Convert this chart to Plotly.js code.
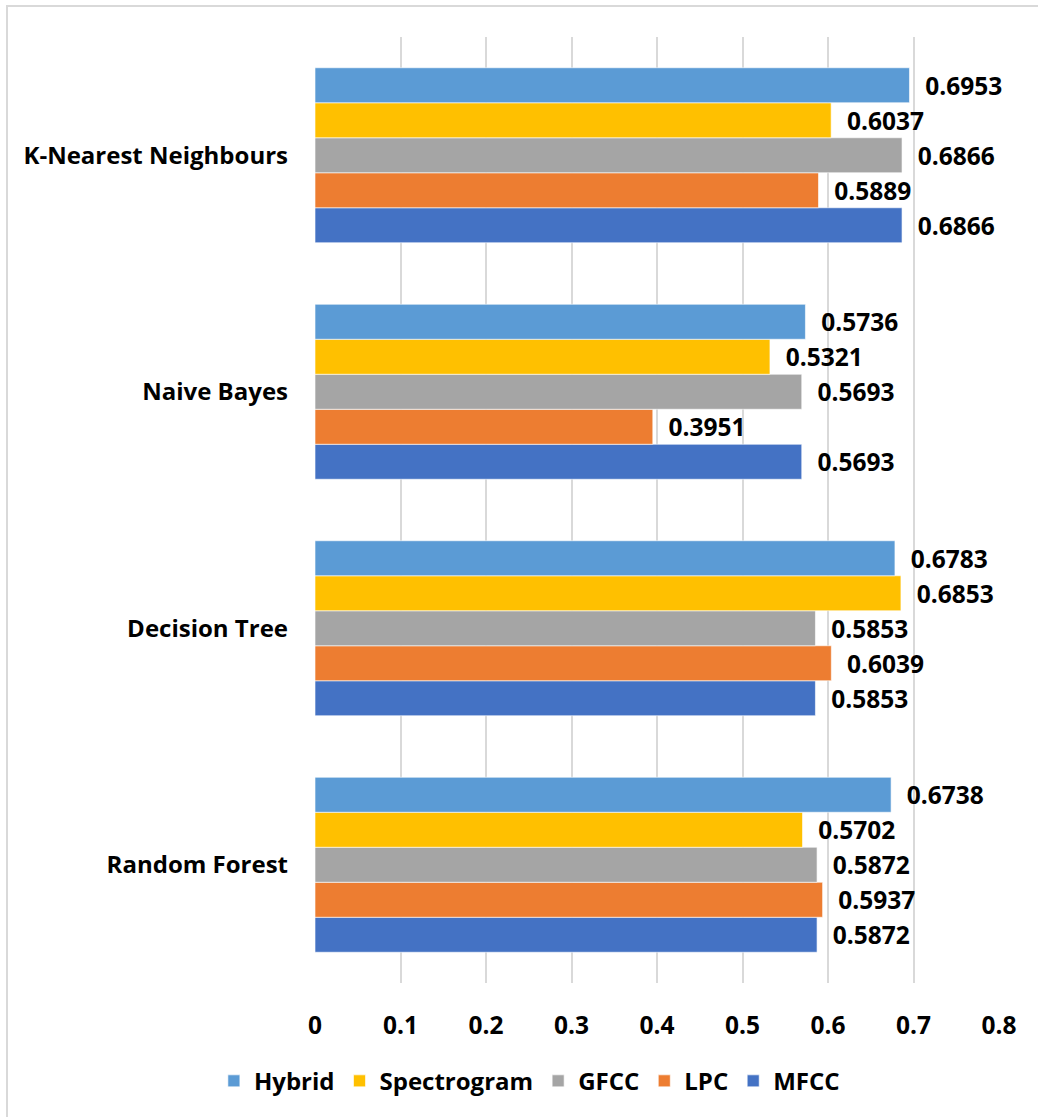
<!DOCTYPE html>
<html>
<head>
<meta charset="utf-8">
<script src="https://cdn.plot.ly/plotly-3.0.1.min.js"></script>
<style>
  html, body { margin: 0; padding: 0; background: #fff; }
  #wrap { position: relative; width: 1038px; height: 1117px; }
  #chart { width: 1038px; height: 1117px; }
  /* chart frame: only the top and left edges are visible */
  #frame {
    position: absolute; left: 6px; top: 5px; right: -10px; bottom: -10px;
    border-top: 2.5px solid #d9d9d9; border-left: 2.5px solid #d9d9d9;
    pointer-events: none;
  }
</style>
</head>
<body>
<div id="wrap">
  <div id="chart"></div>
  <div id="frame"></div>
</div>
<script>
// Classifiers, bottom to top on the category axis
const classifiers = ["Random Forest", "Decision Tree", "Naive Bayes", "K-Nearest Neighbours"];

// Accuracy per feature set, in classifier order above
const mfcc        = [0.5872, 0.5853, 0.5693, 0.6866];
const lpc         = [0.5937, 0.6039, 0.3951, 0.5889];
const gfcc        = [0.5872, 0.5853, 0.5693, 0.6866];
const spectrogram = [0.5702, 0.6853, 0.5321, 0.6037];
const hybrid      = [0.6738, 0.6783, 0.5736, 0.6953];

const xTicks = [0, 0.1, 0.2, 0.3, 0.4, 0.5, 0.6, 0.7, 0.8];

const FONT = "Open Sans, Noto Sans, sans-serif";

function series(name, values, color) {
  return {
    type: "bar",
    orientation: "h",
    name: name,
    y: classifiers,
    x: values,
    marker: { color: color, line: { color: "rgba(255,255,255,0.6)", width: 1 } },
    text: values.map(v => v.toFixed(4)),
    texttemplate: "\u00a0\u00a0%{text}",
    textposition: "outside",
    cliponaxis: false,
    constraintext: "none",
    textfont: { family: FONT, size: 24.5, color: "#000", weight: "bold" },
    hoverinfo: "x+name"
  };
}

const data = [
  series("MFCC", mfcc, "#4472C4"),
  series("LPC", lpc, "#ED7D31"),
  series("GFCC", gfcc, "#A5A5A5"),
  series("Spectrogram", spectrogram, "#FFC000"),
  series("Hybrid", hybrid, "#5B9BD5")
];

const layout = {
  width: 1038,
  height: 1117,
  paper_bgcolor: "#fff",
  plot_bgcolor: "#fff",
  margin: { l: 315, r: 39, t: 37, b: 134 },
  barmode: "group",
  bargap: 0.26,
  bargroupgap: 0,
  font: { family: FONT, color: "#000" },
  xaxis: {
    range: [0, 0.8],
    tickvals: xTicks,
    ticktext: xTicks.map(String),
    showgrid: true,
    gridcolor: "#d9d9d9",
    gridwidth: 2,
    zeroline: false,
    showline: false,
    ticks: "",
    ticklabelstandoff: 25,
    tickfont: { family: FONT, size: 24.5, color: "#000", weight: "bold" },
    fixedrange: true
  },
  yaxis: {
    type: "category",
    categoryorder: "array",
    categoryarray: classifiers,
    range: [-0.5, 3.5],
    showgrid: false,
    zeroline: false,
    showline: false,
    ticks: "",
    ticklabelstandoff: 26,
    tickfont: { family: FONT, size: 24, color: "#000", weight: "bold" },
    fixedrange: true
  },
  showlegend: true,
  legend: {
    orientation: "h",
    traceorder: "reversed",
    xref: "container",
    x: 0.51,
    xanchor: "center",
    yref: "container",
    y: 0.032,
    yanchor: "middle",
    font: { family: FONT, size: 24, color: "#000", weight: "bold" },
    itemwidth: 30
  }
};

Plotly.newPlot("chart", data, layout, { displayModeBar: false, staticPlot: true });
</script>
</body>
</html>
